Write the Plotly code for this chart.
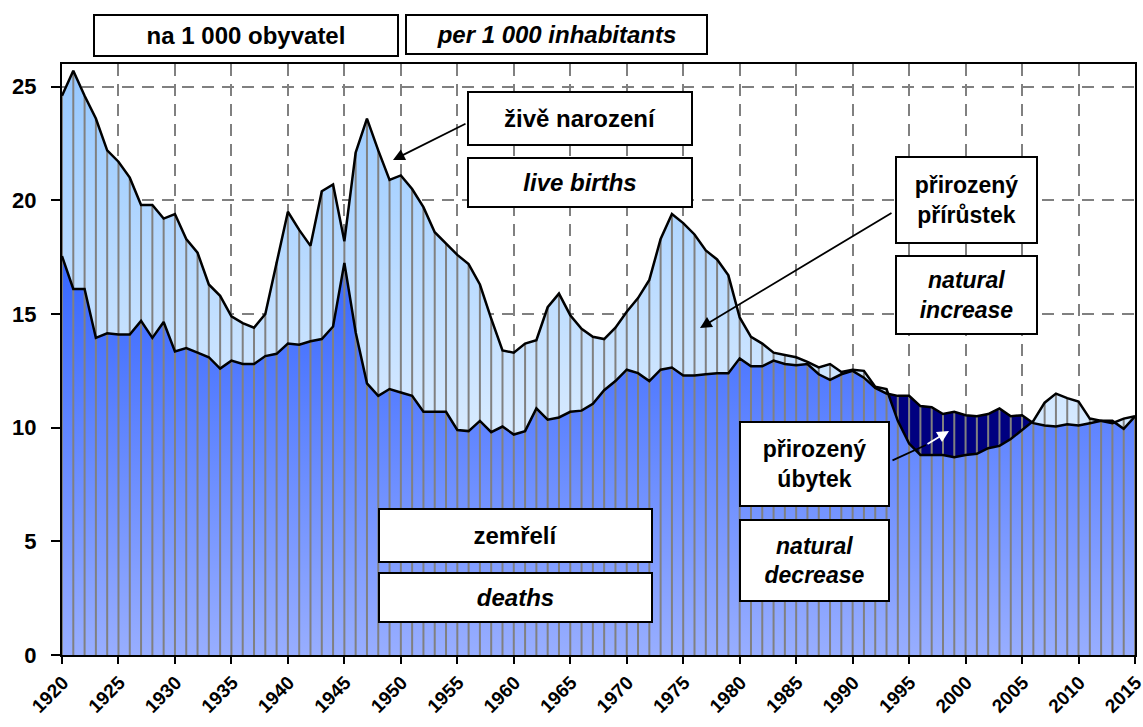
import plotly.graph_objects as go

# ---------------- data ----------------
years = list(range(1920, 2016))
births = [24.6, 25.7, 24.6, 23.6, 22.2, 21.7, 21.0, 19.8, 19.8, 19.2,
          19.4, 18.3, 17.7, 16.3, 15.8, 14.9, 14.6, 14.4, 15.0, 17.3,
          19.5, 18.7, 18.0, 20.4, 20.7, 18.2, 22.1, 23.6, 22.2, 20.9,
          21.1, 20.5, 19.7, 18.6, 18.1, 17.6, 17.2, 16.3, 14.8, 13.4,
          13.3, 13.7, 13.85, 15.3, 15.9, 14.95, 14.35, 14.0, 13.9, 14.4,
          15.1, 15.7, 16.5, 18.3, 19.4, 19.0, 18.5, 17.8, 17.4, 16.7,
          14.85, 14.0, 13.7, 13.3, 13.2, 13.1, 12.9, 12.65, 12.8, 12.45,
          12.55, 12.5, 11.8, 11.7, 10.3, 9.3, 8.8, 8.8, 8.8, 8.7,
          8.8, 8.85, 9.1, 9.2, 9.5, 9.9, 10.3, 11.1, 11.5, 11.3,
          11.15, 10.4, 10.3, 10.2, 10.4, 10.5]
deaths = [17.55, 16.1, 16.1, 13.95, 14.15, 14.1, 14.1, 14.7, 13.95, 14.65,
          13.35, 13.5, 13.3, 13.1, 12.6, 12.95, 12.8, 12.8, 13.15, 13.25,
          13.7, 13.65, 13.8, 13.9, 14.45, 17.25, 14.2, 11.95, 11.4, 11.7,
          11.55, 11.4, 10.7, 10.7, 10.7, 9.9, 9.85, 10.3, 9.8, 10.05,
          9.7, 9.85, 10.85, 10.35, 10.45, 10.7, 10.75, 11.05, 11.65, 12.05,
          12.55, 12.4, 12.05, 12.55, 12.65, 12.3, 12.3, 12.35, 12.4, 12.4,
          13.05, 12.7, 12.7, 12.95, 12.8, 12.75, 12.8, 12.35, 12.1, 12.35,
          12.5, 12.2, 11.75, 11.5, 11.4, 11.4, 10.95, 10.9, 10.6, 10.7,
          10.55, 10.5, 10.6, 10.85, 10.5, 10.55, 10.2, 10.1, 10.05, 10.15,
          10.1, 10.2, 10.3, 10.3, 9.95, 10.5]
x_ticks = list(range(1920, 2016, 5))
y_ticks = [0, 5, 10, 15, 20, 25]

label_units_cz = "na 1 000 obyvatel"
label_units_en = "per 1 000 inhabitants"
label_births_cz = "živě narození"
label_births_en = "live births"
label_inc_cz = "přirozený<br>přírůstek"
label_inc_en = "natural<br>increase"
label_dec_cz = "přirozený<br>úbytek"
label_dec_en = "natural<br>decrease"
label_deaths_cz = "zemřelí"
label_deaths_en = "deaths"

# ---------------- derived series ----------------
# lower envelope min(births, deaths) including exact crossing points
min_x, min_y = [], []
for i in range(len(years)):
    b, d = births[i], deaths[i]
    min_x.append(years[i])
    min_y.append(min(b, d))
    if i < len(years) - 1:
        b2, d2 = births[i + 1], deaths[i + 1]
        d1, dd2 = b - d, b2 - d2
        if d1 * dd2 < 0:
            t = d1 / (d1 - dd2)
            min_x.append(years[i] + t)
            min_y.append(b + t * (b2 - b))

# yearly drop lines up to the upper envelope
vx, vy = [], []
for yr, b, d in zip(years, births, deaths):
    vx += [yr, yr, None]
    vy += [0, max(b, d), None]

FONT = "Liberation Sans, Arial, sans-serif"

fig = go.Figure()

fig.add_trace(go.Scatter(
    x=years, y=births, mode="none", fill="tozeroy",
    fillgradient=dict(type="vertical", start=0, stop=max(births),
                      colorscale=[[0, "#ffffff"], [1, "#96c8ff"]]),
    hoverinfo="skip", showlegend=False))
fig.add_trace(go.Scatter(
    x=years, y=deaths, mode="none", fill="tozeroy", fillcolor="#000080",
    hoverinfo="skip", showlegend=False))
fig.add_trace(go.Scatter(
    x=min_x, y=min_y, mode="none", fill="tozeroy",
    fillgradient=dict(type="vertical", start=0, stop=max(deaths),
                      colorscale=[[0, "#98aeff"], [1, "#3566ff"]]),
    hoverinfo="skip", showlegend=False))
fig.add_trace(go.Scatter(
    x=vx, y=vy, mode="lines", line=dict(color="#808080", width=2),
    hoverinfo="skip", showlegend=False))
fig.add_trace(go.Scatter(
    x=years, y=deaths, mode="lines", line=dict(color="black", width=2.5),
    hoverinfo="skip", showlegend=False))
fig.add_trace(go.Scatter(
    x=years, y=births, mode="lines", line=dict(color="black", width=2.5),
    hoverinfo="skip", showlegend=False))

# ---------------- layout ----------------
FIG_W, FIG_H = 1143, 727
L, R, T, B = 62, 1135, 64, 655   # plot area in pixels
W, H = R - L, B - T


def px(x):
    return (x - L) / W


def py(y):
    return (B - y) / H


annotations = []


def box(text, x0, x1, y0, y1, italic=False, size=24):
    annotations.append(dict(
        text=text, xref="paper", yref="paper",
        x=px((x0 + x1) / 2), y=py((y0 + y1) / 2),
        xanchor="center", yanchor="middle", showarrow=False,
        width=x1 - x0 - 3, height=y1 - y0 - 3,
        bgcolor="white", bordercolor="black", borderwidth=2, borderpad=0,
        align="center",
        font=dict(family=FONT, size=size, color="black", weight="bold",
                  style="italic" if italic else "normal")))


def arrow(hx, hy, tx, ty, color="black", head=2):
    annotations.append(dict(
        text="", xref="paper", yref="paper", x=px(hx), y=py(hy),
        ax=tx - hx, ay=ty - hy, showarrow=True, arrowhead=head,
        arrowsize=1.3, arrowwidth=1.8, arrowcolor=color, standoff=0,
        startstandoff=0))


box(label_units_cz, 93, 398, 14, 56)
box(label_units_en, 405, 707, 14, 54, italic=True)
box(label_births_cz, 467, 692, 91, 145)
box(label_births_en, 467, 692, 157, 207, italic=True)
box(label_inc_cz, 895, 1037, 157, 244, size=23)
box(label_inc_en, 895, 1037, 255, 334, italic=True, size=23)
box(label_dec_cz, 739, 889, 421, 506, size=23)
box(label_dec_en, 739, 889, 519, 601, italic=True, size=23)
box(label_deaths_cz, 378, 652, 508, 562)
box(label_deaths_en, 378, 652, 572, 622, italic=True)

arrow(393, 160, 467, 123)
arrow(700, 328, 893, 212)
arrow(926, 445, 891, 461, head=0)
arrow(949, 431, 926, 445, color="white")

fig.update_layout(
    width=FIG_W, height=FIG_H,
    margin=dict(l=L, r=FIG_W - R, t=T, b=FIG_H - B, autoexpand=False),
    paper_bgcolor="white", plot_bgcolor="white",
    annotations=annotations,
    xaxis=dict(
        range=[1920, 2015], tickvals=x_ticks, ticktext=[str(v) for v in x_ticks],
        tickangle=-45, ticks="outside", ticklen=7, tickwidth=2, tickcolor="black",
        showline=True, linecolor="black", linewidth=2, mirror=True,
        showgrid=True, gridcolor="#808080", gridwidth=2, griddash="12px,8px",
        zeroline=False, automargin=False, ticklabeloverflow="allow",
        ticklabelshift=1,
        tickfont=dict(family=FONT, size=19, color="black", weight="bold")),
    yaxis=dict(
        range=[0, 26], tickvals=y_ticks, ticks="outside", ticklen=9,
        tickwidth=2, tickcolor="black",
        showline=True, linecolor="black", linewidth=2, mirror=True,
        showgrid=True, gridcolor="#808080", gridwidth=2, griddash="12px,8px",
        zeroline=False, ticklabelstandoff=10, automargin=False,
        tickfont=dict(family=FONT, size=22, color="black", weight="bold")),
)

fig.write_html(
    "out.html",
    config={"displayModeBar": False},
    post_script="document.body.style.margin='0';document.body.style.overflow='hidden';")
